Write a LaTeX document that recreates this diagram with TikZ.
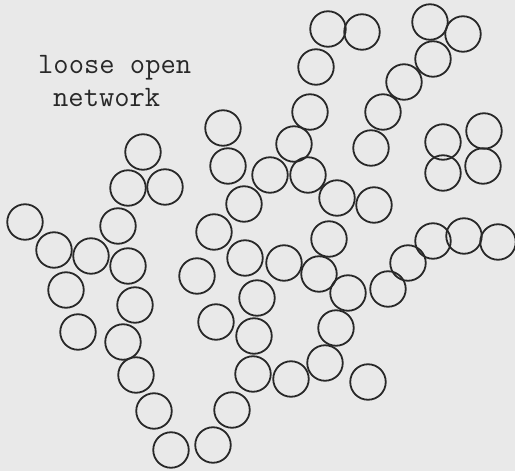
\documentclass[tikz,border=0pt]{standalone}
\begin{document}
\begin{tikzpicture}[x=1pt,y=-1pt,
  ball/.style={circle,draw=ink,line width=1.8pt,minimum size=35.5pt,inner sep=0pt},
  label/.style={font=\ttfamily\fontsize{29.7}{33}\selectfont,text=ink,inner sep=0pt,anchor=base west}]
\definecolor{ink}{RGB}{40,40,40}
\definecolor{paper}{RGB}{233,233,233}
\fill[paper] (0,0) rectangle (515,471);
\useasboundingbox (0,0) rectangle (515,471);
\node[label] (t1) at (38,74) {loose open};
\node[label] (t2) at (53,106) {network};
\foreach \x/\y [count=\i] in {
 328/29, 362/32, 430/22, 463/34, 433/59, 316/67, 404/82, 310/112, 383/112,
 294/144, 371/148, 443/142, 484/131, 443/173, 483/166, 270/175, 308/175,
 337/198, 374/205, 223/128, 143/152, 128/188, 165/187, 228/166, 244/204,
 25/222, 118/226, 214/232, 54/250, 91/256, 128/266, 66/290, 135/305,
 78/332, 123/342, 136/375, 154/411, 171/450, 213/445, 232/410, 197/276,
 216/322, 245/258, 329/239, 284/263, 319/274, 348/293, 388/289, 408/263,
 433/241, 464/236, 498/242, 257/298, 254/336, 253/374, 336/328, 325/363,
 291/379, 368/382}
  \node[ball] (c\i) at (\x,\y) {};
\end{tikzpicture}
\end{document}
